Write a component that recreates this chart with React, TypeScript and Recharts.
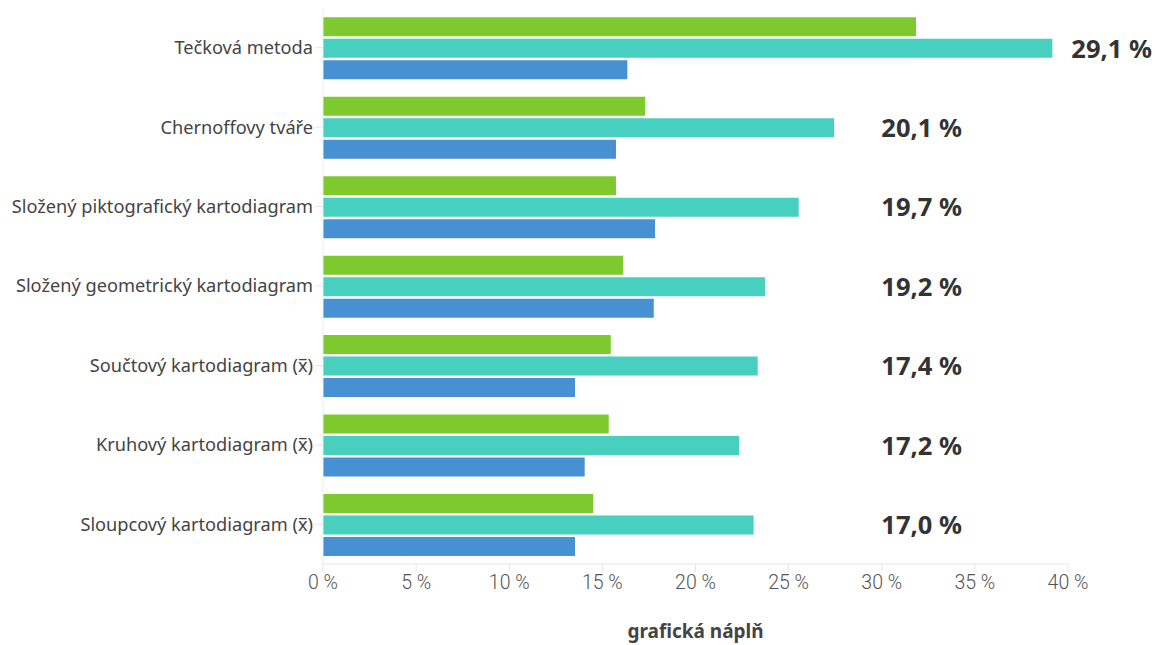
import React from "react";
import { BarChart, Bar, XAxis, YAxis, LabelList } from "recharts";

const categories = [
  "Tečková metoda",
  "Chernoffovy tváře",
  "Složený piktografický kartodiagram",
  "Složený geometrický kartodiagram",
  "Součtový kartodiagram (x̅)",
  "Kruhový kartodiagram (x̅)",
  "Sloupcový kartodiagram (x̅)",
];
const seriesGreen = [31.84, 17.3, 15.73, 16.12, 15.45, 15.34, 14.51];
const seriesTeal = [39.16, 27.44, 25.54, 23.73, 23.34, 22.34, 23.12];
const seriesBlue = [16.34, 15.73, 17.83, 17.76, 13.53, 14.05, 13.53];
const avgLabels = ["29,1 %", "20,1 %", "19,7 %", "19,2 %", "17,4 %", "17,2 %", "17,0 %"];
const xTicks = [0, 5, 10, 15, 20, 25, 30, 35, 40];

const data = categories.map((c, i) => ({
  name: c,
  a: seriesGreen[i],
  b: seriesTeal[i],
  c: seriesBlue[i],
  label: avgLabels[i],
}));

const FONT = "'Noto Sans', 'Open Sans', sans-serif";

const RightLabel = (props: any) => {
  const { x, y, width, height, index } = props;
  const end = x + width;
  const fixedRight = 962;
  const cy = y + height / 2;
  const txt = avgLabels[index];
  if (end + 20 > fixedRight - 90) {
    return (
      <text x={end + 19} y={cy} dy="0.36em" textAnchor="start" fontFamily={FONT} fontWeight={700} fontSize={25.5} fill="#333">
        {txt}
      </text>
    );
  }
  return (
    <text x={fixedRight} y={cy} dy="0.36em" textAnchor="end" fontFamily={FONT} fontWeight={700} fontSize={25.5} fill="#333">
      {txt}
    </text>
  );
};

export default function App() {
  return (
    <div style={{ position: "absolute", left: 0, top: 0, background: "#fff" }}>
      <BarChart
        width={1155}
        height={645}
        data={data}
        layout="vertical"
        margin={{ top: 8, right: 87, bottom: 0, left: 0 }}
        barCategoryGap="11.8%"
        barGap={2.5}
      >
        <XAxis
          type="number"
          domain={[0, 40]}
          ticks={xTicks}
          tickFormatter={(v: number) => `${v} %`}
          axisLine={{ stroke: "#e6e6e6" }}
          tickLine={{ stroke: "#e6e6e6" }}
          tickSize={8}
          tickMargin={3}
          height={81}
          tick={{ fontFamily: "Roboto, sans-serif", fontSize: 19.5, fill: "#555", fontWeight: 300 }}
          label={{
            value: "grafická náplň",
            position: "insideBottom",
            offset: 7,
            style: { fontFamily: FONT, fontWeight: 700, fontSize: 19, fill: "#444" },
          }}
        />
        <YAxis
          type="category"
          dataKey="name"
          width={323}
          axisLine={{ stroke: "#ececec" }}
          tickLine={{ stroke: "#e6e6e6" }}
          tickSize={8}
          tickMargin={2}
          interval={0}
          tick={{ fontFamily: FONT, fontSize: 18.2, fill: "#444" }}
        />
        <Bar dataKey="a" fill="#7ec92e" isAnimationActive={false} />
        <Bar dataKey="b" fill="#47cfbf" isAnimationActive={false}>
          <LabelList dataKey="label" content={RightLabel} />
        </Bar>
        <Bar dataKey="c" fill="#4790d2" isAnimationActive={false} />
      </BarChart>
    </div>
  );
}
